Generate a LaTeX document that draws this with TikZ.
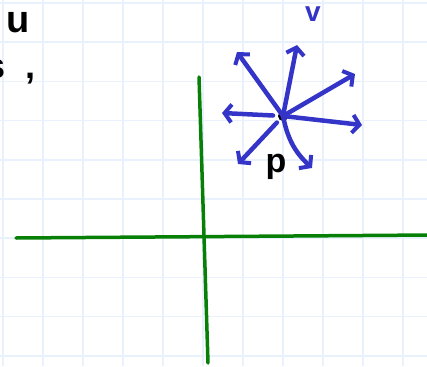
\documentclass[tikz,border=0pt]{standalone}
\usepackage{fontspec}
\setmainfont{Liberation Sans}
\usetikzlibrary{arrows.meta}
\definecolor{penblue}{RGB}{52,52,200}
\definecolor{pengreen}{RGB}{8,128,8}
\definecolor{gridblue}{RGB}{232,241,252}

\begin{document}
\begin{tikzpicture}[
  x=1pt,y=-1pt,
  gridline/.style={gridblue,line width=1.5pt},
  axis/.style={pengreen,line width=3.5pt,line cap=round},
  vec/.style={penblue,line width=4.5pt,line cap=round,
    -{Straight Barb[length=7pt,width=18pt,line width=4pt]}},
  every node/.style={inner sep=0pt,font=\bfseries}
]
  \clip (0,0) rectangle (427,366);
  \useasboundingbox (0,0) rectangle (427,366);
  \foreach \k in {0,...,10}
    \draw[gridline] ({3+40*\k},0) -- ({3+40*\k},366);
  \foreach \k in {0,...,9}
    \draw[gridline] (0,{3+39.2*\k}) -- (427,{3+39.2*\k});

  \coordinate (xl) at (16,238);
  \coordinate (xr) at (432,235);
  \coordinate (yt) at (199,77);
  \coordinate (yb) at (208,363);
  \draw[axis] (xl) -- (xr);
  \draw[axis] (yt) -- (yb);

  \node[circle,fill=black,minimum size=10pt] (p) at (283,116) {};
  \coordinate (a1) at (237,52);
  \coordinate (a2) at (297,45);
  \coordinate (a3) at (355,74);
  \coordinate (a4) at (362,125);
  \coordinate (a5) at (312,168);
  \coordinate (a6) at (238,164);
  \coordinate (a7) at (222,113);
  \draw[vec] (p.center) -- (a1);
  \draw[vec] (p.center) -- (a2);
  \draw[vec] (p.center) -- (a3);
  \draw[vec] (p.center) -- (a4);
  \draw[vec] (p.center) to[bend right=18] (a5);
  \draw[vec,shorten <=9pt] (p.center) -- (a6);
  \draw[vec,shorten <=10pt] (p.center) -- (a7);

  \node[anchor=base] (plabel) at (276,172) {\fontsize{34}{34}\selectfont p};
  \node[anchor=base,text=penblue] (vlabel) at (313,22) {\fontsize{28}{28}\selectfont v};
  \node[anchor=base] (ulabel) at (18,33) {\fontsize{38}{38}\selectfont u};
  \node[anchor=base west] (slabel) at (-15,79) {\fontsize{36}{36}\selectfont s\hspace{20pt},};
\end{tikzpicture}
\end{document}
